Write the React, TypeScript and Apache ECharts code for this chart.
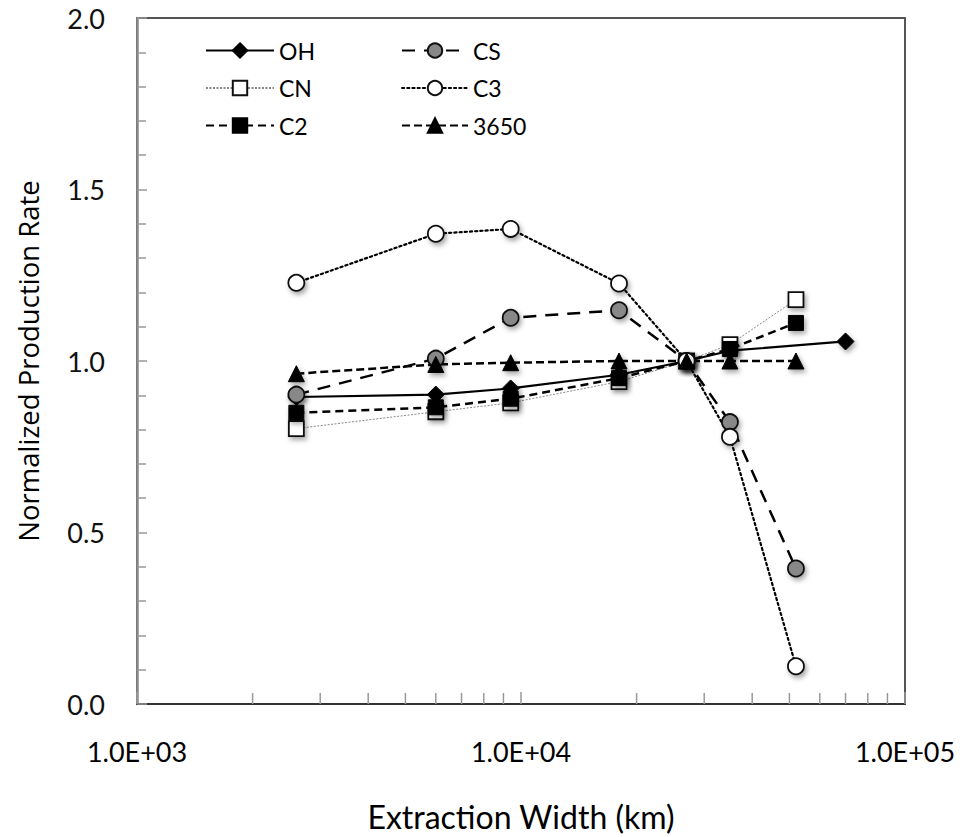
import React, { useEffect, useRef } from "react";
import * as echarts from "echarts";

const xMain = [2600, 6000, 9400, 18000, 27000, 35000, 52000];
const xOH = [2600, 6000, 9400, 18000, 27000, 35000, 70000];
const ohValues = [0.895, 0.902, 0.92, 0.96, 1.0, 1.03, 1.057];
const cnValues = [0.803, 0.852, 0.878, 0.94, 1.0, 1.048, 1.179];
const c2Values = [0.849, 0.865, 0.89, 0.95, 1.0, 1.035, 1.111];
const csValues = [0.902, 1.007, 1.126, 1.148, 1.0, 0.822, 0.395];
const c3Values = [1.228, 1.371, 1.385, 1.226, 1.0, 0.779, 0.11];
const v3650Values = [0.963, 0.99, 0.995, 1.0, 1.0, 1.0, 1.0];
const xMinorTicks = [2000, 3000, 4000, 5000, 6000, 7000, 8000, 9000, 20000, 30000, 40000, 50000, 60000, 70000, 80000, 90000];

const pairs = (xs: number[], ys: number[]) => xs.map((x, i) => [x, ys[i]]);

const shadow = {
  shadowBlur: 5,
  shadowColor: "rgba(0,0,0,0.35)",
  shadowOffsetX: 2,
  shadowOffsetY: 3,
};

export default function App() {
  const ref = useRef<HTMLDivElement>(null);
  useEffect(() => {
    if (!ref.current) return;
    const chart = echarts.init(ref.current, null, { renderer: "svg" });
    const legendText = { fontFamily: "Lato", fontSize: 23, color: "#000", lineHeight: 18 };
    chart.setOption({
      animation: false,
      backgroundColor: "#fff",
      grid: {
        left: 137,
        right: 55,
        top: 18,
        bottom: 132,
        show: true,
        borderColor: "#555",
        borderWidth: 2,
      },
      legend: [
        {
          data: ["OH", "CN", "C2"],
          orient: "vertical",
          left: 200,
          top: 34,
          itemWidth: 68,
          itemHeight: 18,
          itemGap: 14.5,
          textStyle: legendText,
        },
        {
          data: ["CS", "C3", "3650"],
          orient: "vertical",
          left: 396,
          top: 34,
          itemWidth: 66,
          itemHeight: 18,
          itemGap: 14.5,
          textStyle: legendText,
        },
      ],
      xAxis: {
        type: "log",
        logBase: 10,
        min: 1000,
        max: 100000,
        name: "Extraction Width (km)",
        nameLocation: "middle",
        nameGap: 96,
        nameTextStyle: { fontFamily: "Lato", fontSize: 32, color: "#000" },
        axisLine: { lineStyle: { color: "#333", width: 2 } },
        axisTick: { inside: true, length: 12, lineStyle: { color: "#999", width: 1.5 } },
        minorTick: { show: false },
        splitLine: { show: false },
        axisLabel: {
          margin: 34,
          fontFamily: "Lato",
          fontSize: 27,
          color: "#000",
          formatter: (v: number) => {
            const e = Math.round(Math.log10(v));
            return "1.0E+" + String(e).padStart(2, "0");
          },
        },
      },
      yAxis: {
        type: "value",
        min: 0,
        max: 2,
        interval: 0.5,
        name: "Normalized Production Rate",
        nameLocation: "middle",
        nameGap: 95,
        nameTextStyle: { fontFamily: "Open Sans", fontSize: 27.5, color: "#000" },
        axisLine: { show: true, lineStyle: { color: "#8a8a8a", width: 2.5 } },
        axisTick: { inside: true, length: 10, lineStyle: { color: "#999", width: 1.5 } },
        minorTick: { show: true, splitNumber: 5, length: 9, lineStyle: { color: "#999", width: 1.5 } },
        splitLine: { show: false },
        axisLabel: {
          margin: 32,
          fontFamily: "Lato",
          fontSize: 27,
          color: "#111",
          formatter: (v: number) => v.toFixed(1),
        },
      },
      series: [
        {
          type: "custom",
          name: "minorTicks",
          silent: true,
          clip: false,
          data: xMinorTicks.map((x) => [x, 0]),
          renderItem: (params: any, api: any) => {
            const p = api.coord([api.value(0), 0]);
            return {
              type: "line",
              shape: { x1: p[0], y1: p[1], x2: p[0], y2: p[1] - 11 },
              style: { stroke: "#999", lineWidth: 1.5 },
            };
          },
        },
        {
          name: "OH",
          type: "line",
          data: pairs(xOH, ohValues),
          symbol: "diamond",
          symbolSize: 17,
          lineStyle: { color: "#000", width: 2.2, type: "solid" },
          itemStyle: { color: "#000", borderColor: "#000", borderWidth: 1, ...shadow },
        },
        {
          name: "CN",
          type: "line",
          data: pairs(xMain, cnValues),
          symbol: "rect",
          symbolSize: 15,
          lineStyle: { color: "#888", width: 1, type: [2, 1.5] },
          itemStyle: { color: "#fff", borderColor: "#111", borderWidth: 1.8, ...shadow },
        },
        {
          name: "C2",
          type: "line",
          data: pairs(xMain, c2Values),
          symbol: "rect",
          symbolSize: 15,
          lineStyle: { color: "#000", width: 2.5, type: [8, 5] },
          itemStyle: { color: "#000", borderColor: "#000", borderWidth: 1, ...shadow },
        },
        {
          name: "CS",
          type: "line",
          data: pairs(xMain, csValues),
          symbol: "circle",
          symbolSize: 16,
          lineStyle: { color: "#000", width: 2.5, type: [13, 9] },
          itemStyle: { color: "#888", borderColor: "#111", borderWidth: 1.8, ...shadow },
        },
        {
          name: "C3",
          type: "line",
          data: pairs(xMain, c3Values),
          symbol: "circle",
          symbolSize: 16,
          lineStyle: { color: "#000", width: 2.2, type: [2.2, 3], cap: "round" },
          itemStyle: { color: "#fff", borderColor: "#111", borderWidth: 1.8, ...shadow },
        },
        {
          name: "3650",
          type: "line",
          data: pairs(xMain, v3650Values),
          symbol: "triangle",
          symbolSize: 16,
          lineStyle: { color: "#000", width: 2.5, type: [8, 4] },
          itemStyle: { color: "#000", borderColor: "#000", borderWidth: 1, ...shadow },
        },
      ],
    });
    return () => chart.dispose();
  }, []);
  return (
    <div
      ref={ref}
      style={{ position: "absolute", left: 0, top: 0, width: 960, height: 837 }}
    />
  );
}
